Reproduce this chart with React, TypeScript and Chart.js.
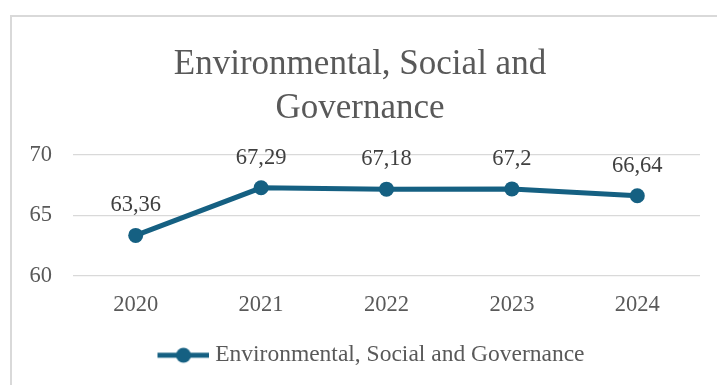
import React, { useEffect, useRef } from "react";
import { Chart, registerables } from "chart.js";

Chart.register(...registerables);

const years = ["2020", "2021", "2022", "2023", "2024"];
const esgValues = [63.36, 67.29, 67.18, 67.2, 66.64];
const seriesName = "Environmental, Social and Governance";
const titleLines = ["Environmental, Social and", "Governance"];
const yMin = 60;
const yMax = 70;
const yStep = 5;

const LINE_COLOR = "#156082";
const TEXT_COLOR = "#595959";
const FONT = "'Liberation Serif', 'Times New Roman', serif";

function makeLegendSymbol(): HTMLCanvasElement {
  const c = document.createElement("canvas");
  c.width = 80;
  c.height = 18;
  const ctx = c.getContext("2d")!;
  ctx.strokeStyle = LINE_COLOR;
  ctx.lineWidth = 5;
  ctx.beginPath();
  ctx.moveTo(28, 9);
  ctx.lineTo(80, 9);
  ctx.stroke();
  ctx.fillStyle = LINE_COLOR;
  ctx.beginPath();
  ctx.arc(54, 9, 7.5, 0, Math.PI * 2);
  ctx.fill();
  return c;
}

const frameBorder = {
  id: "frameBorder",
  beforeDraw(chart: any) {
    const ctx = chart.ctx;
    ctx.save();
    ctx.strokeStyle = "#d9d9d9";
    ctx.lineWidth = 2;
    ctx.beginPath();
    ctx.moveTo(11, chart.height);
    ctx.lineTo(11, 16);
    ctx.lineTo(chart.width, 16);
    ctx.stroke();
    ctx.restore();
  },
};

const valueLabels = {
  id: "valueLabels",
  afterDatasetsDraw(chart: any) {
    const ctx = chart.ctx;
    const meta = chart.getDatasetMeta(0);
    const data = chart.data.datasets[0].data as number[];
    ctx.save();
    ctx.font = `22.5px ${FONT}`;
    ctx.fillStyle = "#404040";
    ctx.textAlign = "center";
    ctx.textBaseline = "alphabetic";
    meta.data.forEach((pt: any, i: number) => {
      const label = String(data[i]).replace(".", ",");
      ctx.fillText(label, pt.x, pt.y - 24);
    });
    ctx.restore();
  },
};

export default function App() {
  const ref = useRef<HTMLCanvasElement | null>(null);

  useEffect(() => {
    if (!ref.current) return;
    const symbol = makeLegendSymbol();
    const chart = new Chart(ref.current, {
      type: "line",
      data: {
        labels: years,
        datasets: [
          {
            label: seriesName,
            data: esgValues,
            borderColor: LINE_COLOR,
            backgroundColor: LINE_COLOR,
            borderWidth: 5,
            pointRadius: 7.5,
            pointHoverRadius: 7.5,
            pointBackgroundColor: LINE_COLOR,
            pointBorderWidth: 0,
            tension: 0,
          },
        ],
      },
      options: {
        responsive: false,
        animation: false,
        layout: { padding: { left: 20, right: 17, top: 0, bottom: 8 } },
        plugins: {
          tooltip: { enabled: false },
          title: {
            display: true,
            text: titleLines,
            color: TEXT_COLOR,
            font: { family: FONT, size: 35, weight: "normal", lineHeight: 1.257 },
            padding: { top: 43.2, bottom: 23.8 },
          },
          legend: {
            display: true,
            position: "bottom",
            labels: {
              usePointStyle: true,
              pointStyle: symbol as any,
              pointStyleWidth: 68,
              color: TEXT_COLOR,
              padding: 10,
              font: { family: FONT, size: 23.5 },
            },
          },
        },
        scales: {
          x: {
            offset: true,
            grid: { display: false, drawTicks: false },
            border: { display: false },
            ticks: {
              color: TEXT_COLOR,
              padding: 15.8,
              font: { family: FONT, size: 22.5 },
              maxRotation: 0,
            },
            afterFit(scale: any) {
              scale.height = 57.4;
            },
          },
          y: {
            min: yMin,
            max: yMax,
            grid: { color: "#d9d9d9", lineWidth: 1.3, drawTicks: false },
            border: { display: false },
            ticks: {
              stepSize: yStep,
              color: TEXT_COLOR,
              padding: 21,
              font: { family: FONT, size: 22.5 },
            },
            afterFit(scale: any) {
              scale.width = 53;
            },
          },
        },
      },
      plugins: [frameBorder, valueLabels],
    });
    return () => chart.destroy();
  }, []);

  return (
    <canvas
      ref={ref}
      width={717}
      height={385}
      style={{ position: "absolute", left: 0, top: 0, display: "block" }}
    />
  );
}
